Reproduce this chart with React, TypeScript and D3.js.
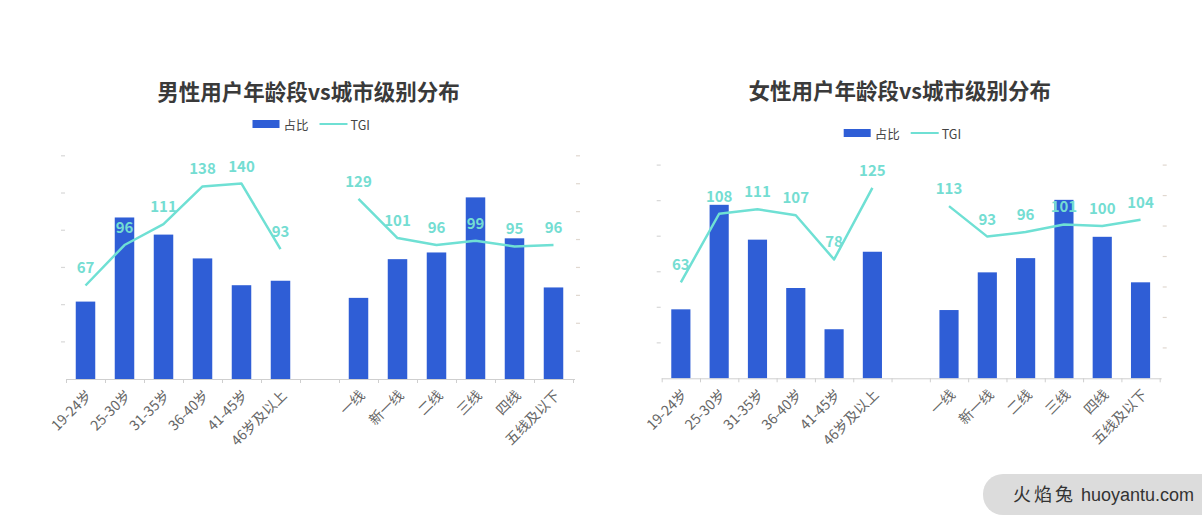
import React from "react";
import * as d3 from "d3";

const ageCats = ["19-24岁", "25-30岁", "31-35岁", "36-40岁", "41-45岁", "46岁及以上"];
const cityCats = ["一线", "新一线", "二线", "三线", "四线", "五线及以下"];

const maleAgeShare = [10.4, 21.7, 19.4, 16.2, 12.6, 13.2];
const maleCityShare = [10.9, 16.1, 17.0, 24.4, 18.9, 12.3];
const maleAgeTGI = [67, 96, 111, 138, 140, 93];
const maleCityTGI = [129, 101, 96, 99, 95, 96];

const femaleAgeShare = [9.7, 24.4, 19.5, 12.7, 6.9, 17.8];
const femaleCityShare = [9.6, 14.9, 16.9, 25.1, 19.9, 13.5];
const femaleAgeTGI = [63, 108, 111, 107, 78, 125];
const femaleCityTGI = [113, 93, 96, 101, 100, 104];

const leftTicks = [0, 5, 10, 15, 20, 25, 30];
const maleRightTicks = [0, 20, 40, 60, 80, 100, 120, 140, 160];
const femaleRightTicks = [0, 20, 40, 60, 80, 100, 120, 140];

const BAR = "#2f5ed6";
const LINE = "#6fe0d4";
const LABEL = "#74ddd2";
const FONT = "'Noto Sans CJK SC', 'Noto Sans', sans-serif";

type ChartProps = {
  title: string;
  titleY: number;
  legendY: number;
  x0: number;
  x1: number;
  top: number;
  bottom: number;
  ageShare: number[];
  cityShare: number[];
  ageTGI: number[];
  cityTGI: number[];
  rightTicks: number[];
};

function Chart(p: ChartProps) {
  const cats = [...ageCats, "", ...cityCats];
  const shares: (number | null)[] = [...p.ageShare, null, ...p.cityShare];
  const tgis: (number | null)[] = [...p.ageTGI, null, ...p.cityTGI];
  const keys = cats.map((c, i) => `${i}`);
  const x = d3.scaleBand<string>().domain(keys).range([p.x0, p.x1]).padding(0);
  const yL = d3.scaleLinear().domain([0, leftTicks[leftTicks.length - 1]]).range([p.bottom, p.top]);
  const yR = d3.scaleLinear().domain([0, p.rightTicks[p.rightTicks.length - 1]]).range([p.bottom, p.top]);
  const bw = x.bandwidth();
  const barW = bw * 0.5;
  const cx = (i: number) => (x(keys[i]) as number) + bw / 2;
  const pts = tgis.map((v, i) => ({ v, i }));
  const line = d3
    .line<{ v: number | null; i: number }>()
    .defined((d) => d.v !== null)
    .x((d) => cx(d.i))
    .y((d) => yR(d.v as number));
  const center = (p.x0 + p.x1) / 2;

  return (
    <g>
      <text x={center - 11} y={p.titleY} textAnchor="middle" dominantBaseline="central" fontSize={21.5} fontWeight={700} fill="#3a3a3a" fontFamily={FONT}>
        {p.title}
      </text>
      {/* legend */}
      <g transform={`translate(${center - 67},${p.legendY})`}>
        <rect x={0} y={-4} width={27} height={8} fill={BAR} />
        <text x={31} y={0} dominantBaseline="central" fontSize={12.5} fill="#444" fontFamily={FONT}>占比</text>
        <line x1={67} x2={95} y1={0} y2={0} stroke={LINE} strokeWidth={2} />
        <text x={98} y={0} dominantBaseline="central" fontSize={12.5} fill="#444" fontFamily={FONT}>TGI</text>
      </g>
      {/* faint axis tick marks */}
      {leftTicks.slice(1).map((t) => (
        <rect key={"l" + t} x={p.x0 - 5} y={yL(t) - 0.5} width={4} height={1.2} fill="#d8d8d8" />
      ))}
      {p.rightTicks.slice(1).map((t) => (
        <rect key={"r" + t} x={p.x1 + 3} y={yR(t) - 0.5} width={4} height={1.2} fill="#e0d8d0" />
      ))}
      {/* bars */}
      {shares.map((v, i) =>
        v === null ? null : (
          <rect key={"b" + i} x={cx(i) - barW / 2} y={yL(v)} width={barW} height={p.bottom - yL(v)} fill={BAR} />
        )
      )}
      {/* x axis */}
      <line x1={p.x0} x2={p.x1 + 2} y1={p.bottom + 0.5} y2={p.bottom + 0.5} stroke="#cfcfcf" strokeWidth={1} />
      {keys.map((k, i) => (
        <line key={"t" + i} x1={(x(k) as number) + 0.5} x2={(x(k) as number) + 0.5} y1={p.bottom} y2={p.bottom + 4} stroke="#cfcfcf" />
      ))}
      <line x1={p.x1 + 0.5} x2={p.x1 + 0.5} y1={p.bottom} y2={p.bottom + 4} stroke="#cfcfcf" />
      {cats.map((c, i) =>
        c === "" ? null : (
          <text
            key={"x" + i}
            transform={`translate(${cx(i) + 3},${p.bottom + 13}) rotate(-45)`}
            textAnchor="end"
            dominantBaseline="central"
            fontSize={14}
            fill="#666"
            fontFamily={FONT}
          >
            {c}
          </text>
        )
      )}
      {/* TGI line */}
      <path d={line(pts) || ""} fill="none" stroke={LINE} strokeWidth={2.5} strokeLinejoin="round" />
      {pts.map((d) =>
        d.v === null ? null : (
          <text key={"v" + d.i} x={cx(d.i)} y={yR(d.v) - 12} textAnchor="middle" fontSize={15} fontWeight={600} fill={LABEL} fontFamily={FONT}>
            {d.v}
          </text>
        )
      )}
    </g>
  );
}

export default function App() {
  return (
    <svg width={1202} height={530} style={{ position: "absolute", left: 0, top: 0, background: "#fff" }}>
      <rect width={1202} height={530} fill="#fff" />
      <Chart
        title="男性用户年龄段vs城市级别分布"
        titleY={90}
        legendY={124}
        x0={66}
        x1={573}
        top={155.7}
        bottom={379}
        ageShare={maleAgeShare}
        cityShare={maleCityShare}
        ageTGI={maleAgeTGI}
        cityTGI={maleCityTGI}
        rightTicks={maleRightTicks}
      />
      <Chart
        title="女性用户年龄段vs城市级别分布"
        titleY={89}
        legendY={133}
        x0={661.7}
        x1={1159.7}
        top={165}
        bottom={378.3}
        ageShare={femaleAgeShare}
        cityShare={femaleCityShare}
        ageTGI={femaleAgeTGI}
        cityTGI={femaleCityTGI}
        rightTicks={femaleRightTicks}
      />
      <g>
        <rect x={983} y={474} width={240} height={41} rx={20} fill="#dcdcdc" />
        <text x={1013} y={495} dominantBaseline="central" fontSize={18} fill="#333" fontFamily="'Liberation Sans Narrow', 'Liberation Sans', 'Noto Sans CJK SC', sans-serif">
          <tspan letterSpacing={3}>火焰兔</tspan> huoyantu.com
        </text>
      </g>
    </svg>
  );
}
